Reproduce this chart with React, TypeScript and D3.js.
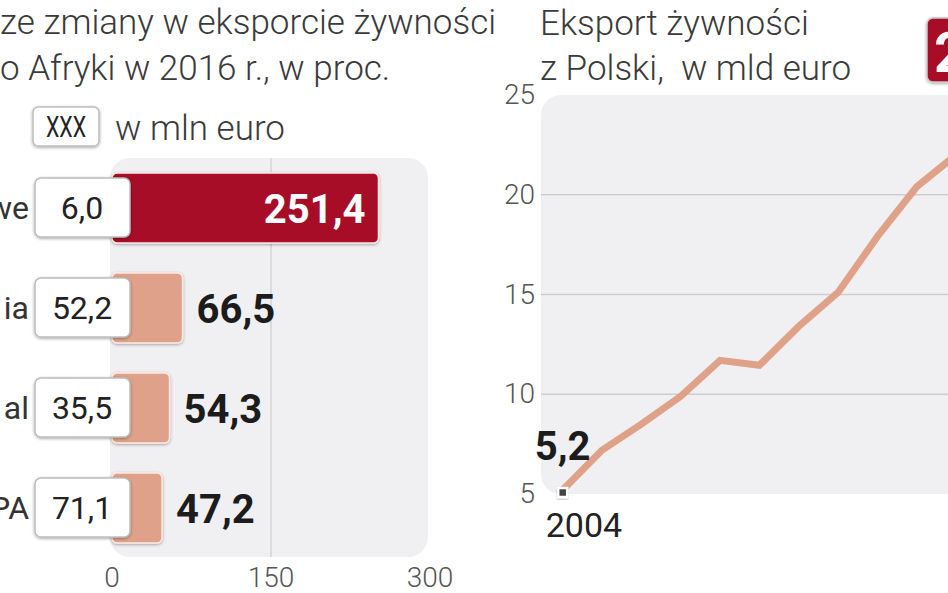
import React from "react";
import * as d3 from "d3";

// ---- Left chart data ----
const categories = ["we", "ia", "al", "PA"];
const changePct = [251.4, 66.5, 54.3, 47.2];
const valueMlnEuro = ["6,0", "52,2", "35,5", "71,1"];
const barTicks = [0, 150, 300];
const leftTitle = ["ze zmiany w eksporcie żywności", "o Afryki w 2016 r., w proc."];

// ---- Right chart data ----
const years = [2004, 2005, 2006, 2007, 2008, 2009, 2010, 2011, 2012, 2013, 2014];
const exportBn = [5.2, 7.2, 8.5, 9.9, 11.7, 11.45, 13.4, 15.1, 17.9, 20.4, 22.0];
const lineTicks = [5, 10, 15, 20, 25];
const rightTitle = ["Eksport żywności", "z Polski,  w mld euro"];
const lastLabel = "24,2";

const FONT = "Roboto, 'Open Sans', sans-serif";
const fmt = (v: number) => v.toFixed(1).replace(".", ",");

export default function App() {
  // left scales
  const x = d3.scaleLinear().domain([0, 300]).range([112, 430]);
  const y = d3
    .scaleBand<string>()
    .domain(categories)
    .range([158, 558])
    .paddingInner(0.3)
    .paddingOuter(0.15);

  // right scales
  const lx = d3.scaleLinear().domain([2004, 2013]).range([562.7, 916.7]);
  const ly = d3.scaleLinear().domain([5, 25]).range([494, 95]);
  const line = d3
    .line<number>()
    .x((_, i) => lx(years[i]))
    .y((d) => ly(d));

  const x0 = lx(years[0]);
  const y0 = ly(exportBn[0]);

  return (
    <svg
      width={948}
      height={593}
      style={{ position: "absolute", left: 0, top: 0, background: "#fff" }}
      fontFamily={FONT}
    >
      <defs>
        <filter id="sh" x="-20%" y="-20%" width="140%" height="150%">
          <feDropShadow dx="0" dy="1" stdDeviation="1.5" floodColor="#000" floodOpacity="0.35" />
        </filter>
        <clipPath id="rclip">
          <rect x={0} y={0} width={948} height={593} />
        </clipPath>
      </defs>

      {/* ---------- LEFT: title ---------- */}
      <g fill="#3a3a3a" fontSize={35} fontWeight={300}>
        <text x={0} y={34}>{leftTitle[0]}</text>
        <text x={0} y={80}>{leftTitle[1]}</text>
      </g>

      {/* legend */}
      <rect x={33} y={107} width={66} height={39} rx={5} fill="#fff" stroke="#bdbdbd" strokeWidth={1.5} filter="url(#sh)" />
      <text x={46} y={137} fontSize={29} fill="#222" textLength={40} lengthAdjust="spacingAndGlyphs">XXX</text>
      <text x={115} y={140} fontSize={35} fontWeight={300} fill="#3a3a3a">w mln euro</text>

      {/* panel */}
      <rect x={110} y={158} width={318} height={399} rx={20} fill="#f0f0f2" />
      <line x1={x(150)} x2={x(150)} y1={158} y2={557} stroke="#c6c6c8" strokeWidth={1} />

      {categories.map((c, i) => {
        const by = y(c)!;
        const bh = y.bandwidth();
        const cy = by + bh / 2;
        const first = i === 0;
        return (
          <g key={c}>
            <rect
              x={x(0)}
              y={by}
              width={x(changePct[i]) - x(0)}
              height={bh}
              rx={5}
              fill={first ? "#a70d25" : "#e0a18b"}
              stroke="#fbe9e2"
              strokeWidth={1.5}
              filter="url(#sh)"
            />
            <rect x={35} y={cy - 30} width={95} height={59} rx={6} fill="#fff" stroke="#bdbdbd" strokeWidth={1.5} filter="url(#sh)" />
            <text x={82} y={cy + 11} textAnchor="middle" fontSize={32} fill="#222">
              {valueMlnEuro[i]}
            </text>
            <text x={29} y={cy + 11} textAnchor="end" fontSize={32} fill="#333">
              {c}
            </text>
            <text
              x={first ? x(changePct[i]) - 13 : x(changePct[i]) + 14}
              y={cy + 15}
              textAnchor={first ? "end" : "start"}
              fontSize={40}
              fontWeight={700}
              fill={first ? "#fff" : "#1c1c1c"}
            >
              {fmt(changePct[i])}
            </text>
          </g>
        );
      })}

      {barTicks.map((t) => (
        <text key={t} x={x(t)} y={587} textAnchor="middle" fontSize={28} fontWeight={300} fill="#555">
          {t}
        </text>
      ))}

      {/* ---------- RIGHT ---------- */}
      <g fill="#3a3a3a" fontSize={35} fontWeight={300}>
        <text x={540} y={35}>{rightTitle[0]}</text>
        <text x={540} y={80} style={{ whiteSpace: "pre" }}>{rightTitle[1]}</text>
      </g>

      <g clipPath="url(#rclip)">
        <rect x={541} y={95} width={500} height={399} rx={20} fill="#f0f0f2" />
        {lineTicks
          .filter((t) => t > 5 && t < 25)
          .map((t) => (
            <line key={t} x1={541} x2={948} y1={ly(t)} y2={ly(t)} stroke="#cdcdd0" strokeWidth={1.5} />
          ))}
        <path d={line(exportBn) || ""} fill="none" stroke="#dfa187" strokeWidth={7} strokeLinejoin="miter" />

        <rect x={927} y={18} width={90} height={64} rx={6} fill="#a70d25" stroke="#c9c9c9" strokeWidth={1.5} filter="url(#sh)" />
        <text x={934} y={72} fontSize={56} fontWeight={700} fill="#fff">{lastLabel}</text>
      </g>

      {lineTicks.map((t) => (
        <text key={t} x={535} y={ly(t) + 9} textAnchor="end" fontSize={28} fontWeight={300} fill="#555">
          {t}
        </text>
      ))}

      <rect x={x0 - 4.5} y={y0 - 2} width={9} height={9} fill="#444" stroke="#fff" strokeWidth={2.5} filter="url(#sh)" />
      <text x={x0 - 28} y={y0 - 30} fontSize={40} fontWeight={700} fill="#1c1c1c">
        {fmt(exportBn[0])}
      </text>
      <text x={x0 - 17} y={y0 + 47} fontSize={34} fill="#222">
        {years[0]}
      </text>
    </svg>
  );
}
